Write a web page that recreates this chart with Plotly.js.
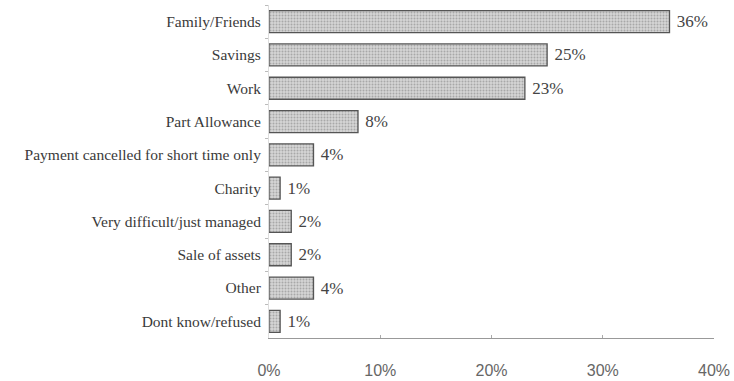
<!DOCTYPE html>
<html><head><meta charset="utf-8">
<script src="https://cdn.plot.ly/plotly-3.0.1.min.js"></script>
<style>html,body{margin:0;padding:0;background:#fff;}#chart{width:734px;height:381px;}</style>
</head><body><div id="chart"></div>
<script>
const categories = ["Family/Friends","Savings","Work","Part Allowance","Payment cancelled for short time only","Charity","Very difficult/just managed","Sale of assets","Other","Dont know/refused"];
const values = [36,25,23,8,4,1,2,2,4,1];
const valueLabels = values.map(v => v + "%");
const xTickVals = [0,10,20,30,40];
const xTickText = ["0%","10%","20%","30%","40%"];

const trace = {
  type: "bar", orientation: "h",
  y: categories, x: values,
  text: valueLabels, texttemplate: " %{text}", textposition: "outside", cliponaxis: false,
  textfont: {family: "Liberation Serif, Times New Roman, serif", size: 17, color: "#444"},
  marker: {color: "#d0d0d0", line: {color: "#555", width: 1.3},
    pattern: {shape: ".", bgcolor: "#d6d6d6", fgcolor: "#a8a8a8", size: 3, solidity: 0.35}},
  hoverinfo: "none"
};
const layout = {
  width: 734, height: 381,
  margin: {l: 269, r: 20, t: 5, b: 43},
  paper_bgcolor: "#fff", plot_bgcolor: "#fff",
  showlegend: false, bargap: 0.34,
  xaxis: {range: [0, 40], tickvals: xTickVals, ticktext: xTickText,
    showgrid: false, zeroline: false, showline: true, linecolor: "#999", linewidth: 1,
    ticks: "inside", ticklen: 3, tickcolor: "#aaa", ticklabelstandoff: 18,
    tickfont: {family: "Liberation Sans, Arial, sans-serif", size: 16, color: "#666"}},
  yaxis: {autorange: "reversed", type: "category", showgrid: false, zeroline: false,
    showline: true, linecolor: "#ddd", linewidth: 1,
    ticks: "outside", ticklen: 3, tickcolor: "#bbb", tickson: "boundaries", ticklabelstandoff: 4,
    tickfont: {family: "Liberation Serif, Times New Roman, serif", size: 15.5, color: "#3a3a3a"}}
};
Plotly.newPlot("chart", [trace], layout, {displayModeBar: false, staticPlot: true});
</script></body></html>
